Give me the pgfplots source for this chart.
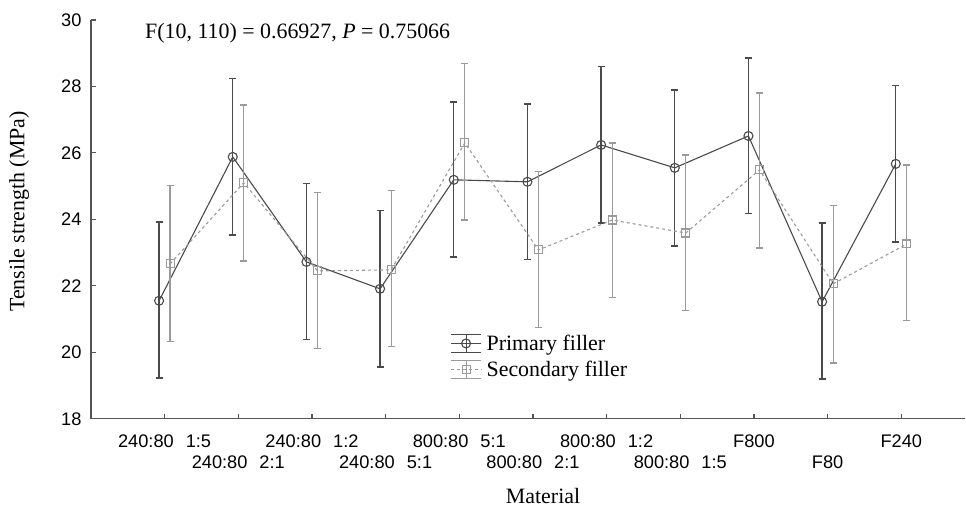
\documentclass[border=0pt]{standalone}
\usepackage{pgfplots}
\pgfplotsset{compat=1.18}
\usepackage{pgfplotstable}
\usepackage{fontspec}
\setmainfont{Liberation Serif}
\setsansfont{Liberation Sans}
\definecolor{prim}{HTML}{4A4A4A}
\definecolor{sec}{HTML}{9A9A9A}
\definecolor{axc}{HTML}{555555}

\pgfplotstableread{
x  y      top    bot
1  21.55  23.92  19.23
2  25.88  28.23  23.53
3  22.72  25.07  20.38
4  21.91  24.26  19.56
5  25.19  27.53  22.87
6  25.13  27.47  22.80
7  26.24  28.59  23.89
8  25.55  27.89  23.20
9  26.51  28.86  24.17
10 21.52  23.89  19.20
11 25.67  28.02  23.32
}\primary

\pgfplotstableread{
x  y      top    bot
1  22.66  25.01  20.32
2  25.10  27.44  22.75
3  22.45  24.80  20.11
4  22.48  24.86  20.17
5  26.30  28.68  23.98
6  23.08  25.43  20.74
7  23.98  26.30  21.64
8  23.59  25.94  21.25
9  25.49  27.80  23.14
10 22.06  24.41  19.68
11 23.26  25.64  20.95
}\secondary

\begin{document}
\begin{tikzpicture}
\begin{axis}[
  width=875bp, height=399bp, scale only axis,
  xmin=0, xmax=11.87, ymin=18, ymax=30,
  axis lines*=left,
  axis line style={color=axc, line width=1.2bp},
  tick align=inside,
  major tick length=5bp,
  every tick/.style={color=axc, line width=1.1bp},
  xtick={1,...,11},
  ytick={18,20,...,30},
  /pgf/number format/assume math mode=true,
  yticklabel style={font=\sffamily\fontsize{18.3}{22}\selectfont, color=black, xshift=-6bp},
  xticklabel style={font=\sffamily\fontsize{18.3}{21.5}\selectfont, align=center, color=black, yshift=-10bp},
  xticklabels={
    {\strut 240:80\hspace{12bp}1:5},
    {\strut\\240:80\hspace{12bp}2:1},
    {\strut 240:80\hspace{12bp}1:2},
    {\strut\\240:80\hspace{12bp}5:1},
    {\strut 800:80\hspace{12bp}5:1},
    {\strut\\800:80\hspace{12bp}2:1},
    {\strut 800:80\hspace{12bp}1:2},
    {\strut\\800:80\hspace{12bp}1:5},
    {\strut F800},
    {\strut\\F80},
    {\strut F240}},
  xlabel={Material},
  ylabel={Tensile strength (MPa)},
  label style={font=\fontsize{22}{26}\selectfont},
  xlabel style={at={(axis description cs:0.517,0)}, anchor=center, yshift=-77bp},
  ylabel style={at={(axis description cs:-0.082,0.52)}, anchor=center},
  legend style={draw=none, fill=none, at={(axis description cs:0.411,0.2155)}, anchor=north west,
    font=\fontsize{22}{26}\selectfont, row sep=5bp, column sep=3bp, inner sep=0pt},
  legend cell align=left,
  legend image code/.code={
    \draw[#1, solid, mark=none] (0bp,9bp) -- (30bp,9bp);
    \draw[#1, solid, mark=none] (0bp,-9bp) -- (30bp,-9bp);
    \draw[#1, solid, mark=none] (15bp,-9bp) -- (15bp,9bp);
    \draw[mark repeat=2, mark phase=2, #1] plot coordinates {(0bp,0bp) (15bp,0bp) (30bp,0bp)};
  },
]
\addplot[color=prim, line width=1.1bp, mark=o, mark size=4.5bp,
  mark options={solid, line width=1.1bp},
  error bars/.cd, y dir=both, y explicit,
  error bar style={line width=1.3bp, color=prim},
  error mark options={rotate=90, mark size=3.5bp, line width=1.3bp, color=prim}]
  table[x expr=\thisrow{x}-0.075, y=y,
        y error plus expr=\thisrow{top}-\thisrow{y},
        y error minus expr=\thisrow{y}-\thisrow{bot}] {\primary};
\addlegendentry{Primary filler}
\addplot[color=sec, line width=1.1bp, dashed, mark=square, mark size=4bp,
  mark options={solid, line width=1.1bp},
  error bars/.cd, y dir=both, y explicit,
  error bar style={line width=1.3bp, color=sec, solid},
  error mark options={rotate=90, mark size=3.5bp, line width=1.3bp, color=sec, solid}]
  table[x expr=\thisrow{x}+0.075, y=y,
        y error plus expr=\thisrow{top}-\thisrow{y},
        y error minus expr=\thisrow{y}-\thisrow{bot}] {\secondary};
\addlegendentry{Secondary filler}
\node[anchor=west, font=\fontsize{22}{26}\selectfont] at (rel axis cs:0.058,0.967)
  {F(10, 110) = 0.66927, \textit{P} = 0.75066};
\end{axis}
\path (current axis.south west) ++(-91bp,-86bp) rectangle ++(966bp,505bp);
\end{tikzpicture}
\end{document}
